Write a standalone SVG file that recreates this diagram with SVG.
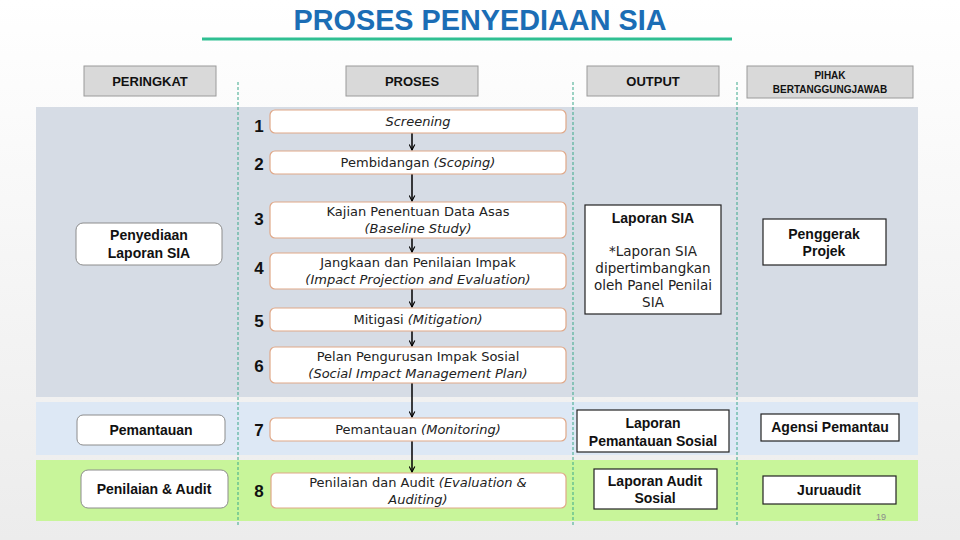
<svg xmlns="http://www.w3.org/2000/svg" width="960" height="540" viewBox="0 0 960 540">
<defs>
<linearGradient id="bg" x1="0" y1="0" x2="0" y2="1">
<stop offset="0" stop-color="#ffffff"/><stop offset="1" stop-color="#ececec"/>
</linearGradient>
<marker id="ah" viewBox="0 0 10 10" refX="9" refY="5" markerWidth="7" markerHeight="7" orient="auto" markerUnits="userSpaceOnUse">
<path d="M1,1 L9,5 L1,9" fill="none" stroke="#000" stroke-width="1.6"/>
</marker>
</defs>
<style>
text{font-family:"Liberation Sans",Arial,sans-serif;fill:#000}
.hdr{fill:#d9d9d9;stroke:#9a9a9a;stroke-width:1}
.ht{font-size:13px;font-weight:bold;fill:#111}
.hts{font-size:10px;font-weight:bold;fill:#111}
.dash{stroke:#3aa88a;stroke-width:1;stroke-dasharray:3,2}
.pb{fill:#fff;stroke:#e0a888;stroke-width:1.2}
.pt{font-family:"DejaVu Sans",sans-serif;font-size:13px;fill:#222}
.num{font-size:17px;font-weight:bold;fill:#111}
.lb{fill:#fff;stroke:#8c8c8c;stroke-width:1}
.bt{font-size:14px;font-weight:bold;fill:#111}
.ob{fill:#fff;stroke:#222;stroke-width:1.2}
.rt{font-family:"DejaVu Sans",sans-serif;font-size:13.5px;fill:#222}
.arr{stroke:#000;stroke-width:1.5;fill:none;marker-end:url(#ah)}
</style>
<rect width="960" height="540" fill="url(#bg)"/>
<text x="480" y="30" text-anchor="middle" font-size="29" font-weight="bold" style="fill:#1b6db5" textLength="373" lengthAdjust="spacingAndGlyphs">PROSES PENYEDIAAN SIA</text>
<rect x="202" y="37.5" width="530" height="3" fill="#2fbf92"/>

<g id="bands">
<rect x="36" y="107" width="882" height="290" fill="#d6dce5"/>
<rect x="36" y="402" width="882" height="53" fill="#dde8f5"/>
<rect x="36" y="460" width="882" height="61" fill="#c8f59a"/>
</g>

<g id="headers">
<g id="h-peringkat"><rect class="hdr" x="84" y="66" width="132" height="30"/><text class="ht" x="150" y="86" text-anchor="middle">PERINGKAT</text></g>
<g id="h-proses"><rect class="hdr" x="346" y="66" width="132" height="30"/><text class="ht" x="412" y="86" text-anchor="middle">PROSES</text></g>
<g id="h-output"><rect class="hdr" x="587" y="66" width="132" height="30"/><text class="ht" x="653" y="86" text-anchor="middle">OUTPUT</text></g>
<g id="h-pihak"><rect class="hdr" x="747" y="66" width="166" height="32"/><text class="hts" x="830" y="79" text-anchor="middle">PIHAK</text><text class="hts" x="830" y="93" text-anchor="middle">BERTANGGUNGJAWAB</text></g>
</g>

<g id="dividers">
<line class="dash" x1="238" y1="82" x2="238" y2="525"/>
<line class="dash" x1="573" y1="82" x2="573" y2="525"/>
<line class="dash" x1="737" y1="82" x2="737" y2="525"/>
</g>

<g id="connectors">
<line class="arr" x1="412" y1="133" x2="412" y2="150"/>
<line class="arr" x1="412" y1="174" x2="412" y2="201"/>
<line class="arr" x1="412" y1="238" x2="412" y2="252"/>
<line class="arr" x1="412" y1="289" x2="412" y2="307"/>
<line class="arr" x1="412" y1="331" x2="412" y2="346"/>
<line class="arr" x1="412" y1="383" x2="412" y2="417"/>
<line class="arr" x1="412" y1="441" x2="412" y2="472"/>
</g>

<g id="p1"><text class="num" x="259" y="132" text-anchor="middle">1</text><rect class="pb" x="270" y="110" width="296" height="23" rx="5"/><text class="pt" x="418" y="126" text-anchor="middle" font-style="italic">Screening</text></g>
<g id="p2"><text class="num" x="259" y="170" text-anchor="middle">2</text><rect class="pb" x="270" y="151" width="296" height="23" rx="5"/><text class="pt" x="418" y="167" text-anchor="middle">Pembidangan <tspan font-style="italic">(Scoping)</tspan></text></g>
<g id="p3"><text class="num" x="259" y="225" text-anchor="middle">3</text><rect class="pb" x="270" y="202" width="296" height="36" rx="5"/><text class="pt" x="418" y="216" text-anchor="middle">Kajian Penentuan Data Asas</text><text class="pt" x="418" y="233" text-anchor="middle" font-style="italic">(Baseline Study)</text></g>
<g id="p4"><text class="num" x="259" y="274" text-anchor="middle">4</text><rect class="pb" x="270" y="253" width="296" height="36" rx="5"/><text class="pt" x="418" y="267" text-anchor="middle">Jangkaan dan Penilaian Impak</text><text class="pt" x="418" y="284" text-anchor="middle" font-style="italic">(Impact Projection and Evaluation)</text></g>
<g id="p5"><text class="num" x="259" y="327" text-anchor="middle">5</text><rect class="pb" x="270" y="308" width="296" height="23" rx="5"/><text class="pt" x="418" y="324" text-anchor="middle">Mitigasi <tspan font-style="italic">(Mitigation)</tspan></text></g>
<g id="p6"><text class="num" x="259" y="372" text-anchor="middle">6</text><rect class="pb" x="270" y="347" width="296" height="36" rx="5"/><text class="pt" x="418" y="361" text-anchor="middle">Pelan Pengurusan Impak Sosial</text><text class="pt" x="418" y="378" text-anchor="middle" font-style="italic">(Social Impact Management Plan)</text></g>
<g id="p7"><text class="num" x="259" y="436" text-anchor="middle">7</text><rect class="pb" x="270" y="418" width="296" height="23" rx="5"/><text class="pt" x="418" y="434" text-anchor="middle">Pemantauan <tspan font-style="italic">(Monitoring)</tspan></text></g>
<g id="p8"><text class="num" x="259" y="497" text-anchor="middle">8</text><rect class="pb" x="271" y="473" width="295" height="35" rx="5"/><text class="pt" x="418" y="487" text-anchor="middle">Penilaian dan Audit <tspan font-style="italic">(Evaluation &amp;</tspan></text><text class="pt" x="418" y="504" text-anchor="middle" font-style="italic">Auditing)</text></g>

<g id="l1"><rect class="lb" x="76" y="223" width="146" height="42" rx="7"/><text class="bt" x="149" y="240" text-anchor="middle">Penyediaan</text><text class="bt" x="149" y="258" text-anchor="middle">Laporan SIA</text></g>
<g id="l2"><rect class="lb" x="77" y="415" width="148" height="30" rx="6"/><text class="bt" x="151" y="435" text-anchor="middle">Pemantauan</text></g>
<g id="l3"><rect class="lb" x="81" y="470" width="147" height="38" rx="7"/><text class="bt" x="154" y="494" text-anchor="middle">Penilaian &amp; Audit</text></g>

<g id="o1"><rect class="ob" x="585" y="205" width="136" height="109"/><text class="bt" x="653" y="223" text-anchor="middle">Laporan SIA</text><text class="rt" x="653" y="256" text-anchor="middle">*Laporan SIA</text><text class="rt" x="653" y="273" text-anchor="middle">dipertimbangkan</text><text class="rt" x="653" y="290" text-anchor="middle">oleh Panel Penilai</text><text class="rt" x="653" y="307" text-anchor="middle">SIA</text></g>
<g id="o2"><rect class="ob" x="577" y="410" width="152" height="42"/><text class="bt" x="653" y="428" text-anchor="middle">Laporan</text><text class="bt" x="653" y="446" text-anchor="middle">Pemantauan Sosial</text></g>
<g id="o3"><rect class="ob" x="594" y="469" width="123" height="40"/><text class="bt" x="655" y="486" text-anchor="middle">Laporan Audit</text><text class="bt" x="655" y="503" text-anchor="middle">Sosial</text></g>

<g id="r1"><rect class="ob" x="763" y="219" width="123" height="46"/><text class="bt" x="824" y="239" text-anchor="middle">Penggerak</text><text class="bt" x="824" y="256" text-anchor="middle">Projek</text></g>
<g id="r2"><rect class="ob" x="761" y="414" width="138" height="27"/><text class="bt" x="830" y="432" text-anchor="middle">Agensi Pemantau</text></g>
<g id="r3"><rect class="ob" x="763" y="476" width="133" height="28"/><text class="bt" x="829" y="495" text-anchor="middle">Juruaudit</text></g>

<text x="881" y="520" text-anchor="middle" font-size="9" style="fill:#8a8a8a">19</text>
</svg>
